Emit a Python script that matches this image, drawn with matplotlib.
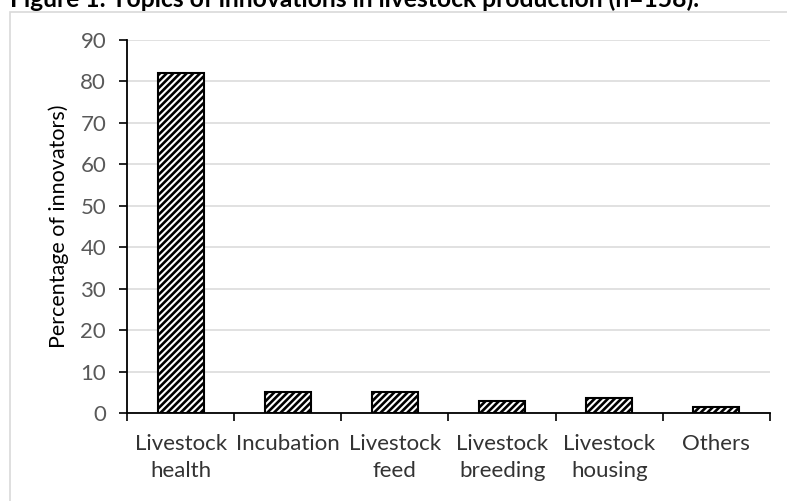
import matplotlib
matplotlib.use("Agg")
import matplotlib.pyplot as plt
from matplotlib.patches import Rectangle
import numpy as np

categories = ["Livestock\nhealth", "Incubation", "Livestock\nfeed", "Livestock\nbreeding", "Livestock\nhousing", "Others"]
values = [82, 5, 5, 3, 3.6, 1.4]
yticks = [0, 10, 20, 30, 40, 50, 60, 70, 80, 90]
title = "Figure 1: Topics of innovations in livestock production (n=158)."
ylabel = "Percentage of innovators)"

plt.rcParams['font.family'] = ['Lato', 'DejaVu Sans']
plt.rcParams['hatch.linewidth'] = 1.9
plt.rcParams['hatch.color'] = 'black'

W, H = 787, 501
fig = plt.figure(figsize=(W/100, H/100), dpi=100)

# outer chart border
fig.patches.append(Rectangle((10/W, -0.05), 1.2, 1 - 12/H + 0.05, transform=fig.transFigure,
                             fill=False, edgecolor='#D9D9D9', linewidth=1.2))

fig.text(10/W, 1 - 7/H, title, fontsize=17.7, fontweight='bold', ha='left', va='baseline', color='black')

ax = fig.add_axes([127/W, 1 - 413/H, (770-127)/W, (413-40)/H])
x = np.arange(len(categories))
ax.bar(x, values, width=0.43, color='white', edgecolor='black', linewidth=1.5, hatch='/////', zorder=3)

ax.set_xlim(-0.5, len(categories) - 0.5)
ax.set_ylim(0, 90)
ax.set_yticks(yticks)
ax.yaxis.grid(True, color='#D9D9D9', linewidth=1.1, zorder=0)
ax.set_axisbelow(True)

ax.set_xticks(x)
ax.set_xticklabels(categories, fontsize=16, color='#333333', linespacing=1.45)
ax.set_xticks(np.arange(-0.5, len(categories) + 0.5, 1), minor=True)
ax.tick_params(axis='x', which='major', length=0, pad=15)
ax.tick_params(axis='x', which='minor', length=6, width=1.2, direction='out', color='black')
ax.tick_params(axis='y', length=6, width=1.2, direction='out', colors='black', labelsize=16, labelcolor='#595959', pad=9)

for s in ['top', 'right']:
    ax.spines[s].set_visible(False)
for s in ['left', 'bottom']:
    ax.spines[s].set_color('black')
    ax.spines[s].set_linewidth(1.3)

ax.set_ylabel(ylabel, fontsize=15.5, color='black', labelpad=8)

fig.savefig("out.png", dpi=100)
